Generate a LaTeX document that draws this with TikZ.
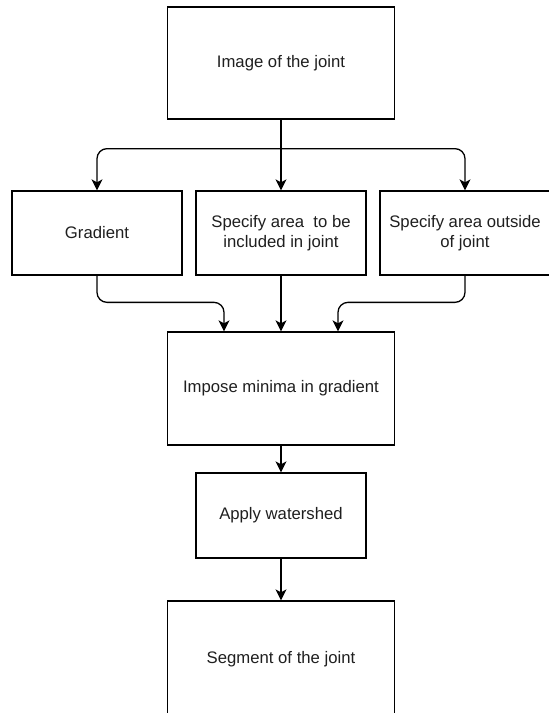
\documentclass[tikz,border=0pt]{standalone}
\usepackage{fontspec}
\setmainfont{Liberation Sans}
\usetikzlibrary{arrows.meta,calc}
\begin{document}
\begin{tikzpicture}[x=1pt,y=-1pt,
  box/.style={draw=black,line width=1.3pt,fill=white,inner sep=2pt,align=center,
    font=\fontsize{16.7}{20}\selectfont,text=black!88},
  arr/.style={draw=black,line width=1.3pt,rounded corners=10pt,
    -{Stealth[length=11pt,width=11pt,inset=3pt]}}]
\useasboundingbox (0,0) rectangle (549,713);
\node[box,minimum width=227pt,minimum height=112pt] (img) at (281,63) {Image of the joint};
\node[box,minimum width=170pt,minimum height=84pt] (grad) at (97,233) {Gradient};
\node[box,minimum width=170pt,minimum height=84pt] (incl) at (281,233) {Specify area\ \ to be\\included in joint};
\node[box,minimum width=170pt,minimum height=84pt] (outs) at (465,233) {Specify area outside\\of joint};
\node[box,minimum width=227pt,minimum height=113pt] (imp) at (281,388.5) {Impose minima in gradient};
\node[box,minimum width=170pt,minimum height=85pt] (ws) at (281,515.5) {Apply watershed};
\node[box,minimum width=227pt,minimum height=116pt] (seg) at (281,659) {Segment of the joint};
\coordinate (jt) at ([yshift=-29pt]img.south);
\draw[arr] (img.south) -- (incl.north);
\draw[arr] (jt) -| (grad.north);
\draw[arr] (jt) -| (outs.north);
\draw[arr] (grad.south) |- ([xshift=-57pt,yshift=29pt]imp.north) -- ([xshift=-57pt]imp.north);
\draw[arr] (incl.south) -- (imp.north);
\draw[arr] (outs.south) |- ([xshift=57pt,yshift=29pt]imp.north) -- ([xshift=57pt]imp.north);
\draw[arr] (imp.south) -- (ws.north);
\draw[arr] (ws.south) -- (seg.north);
\end{tikzpicture}
\end{document}
